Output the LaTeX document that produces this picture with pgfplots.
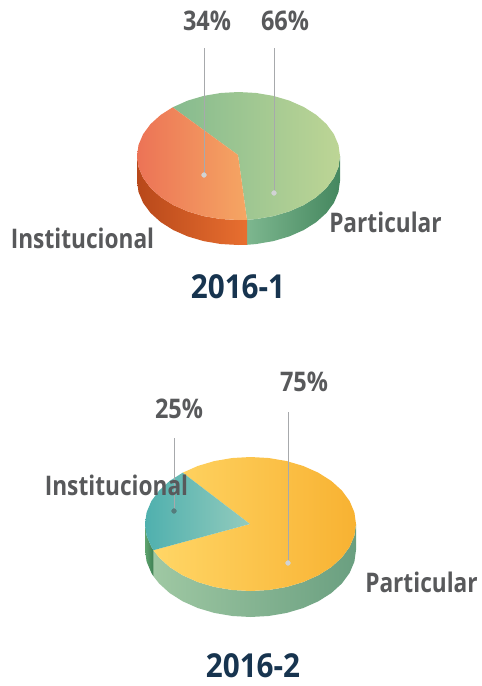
\documentclass[border=0pt]{standalone}
\usepackage{pgfplots}
\pgfplotsset{compat=1.18}
\usepackage{fontspec}
\setmainfont[BoldFeatures={FakeStretch=0.84}]{Open Sans}
\newfontfamily\pctfont[BoldFeatures={FakeStretch=0.87}]{Open Sans}
\newfontfamily\ttlfont[BoldFeatures={FakeStretch=0.9}]{Open Sans}
\definecolor{lab}{HTML}{58595B}
\definecolor{ttl}{HTML}{17344F}
\definecolor{ldr}{HTML}{A7A9AC}
\definecolor{dot}{HTML}{D1D3D4}
\definecolor{oa}{HTML}{EC7356}\definecolor{ob}{HTML}{F5A663}
\definecolor{ga}{HTML}{86BB8F}\definecolor{gb}{HTML}{BDD595}
\definecolor{osa}{HTML}{B8481A}\definecolor{osb}{HTML}{E86F30}
\definecolor{gsa}{HTML}{7DB78F}\definecolor{gsb}{HTML}{45875F}
\definecolor{ya}{HTML}{FFD666}\definecolor{yb}{HTML}{F8B232}
\definecolor{ta}{HTML}{4FB0AE}\definecolor{tb}{HTML}{93CBBD}
\definecolor{sa}{HTML}{9FC8A3}\definecolor{sb}{HTML}{6A9F80}
\definecolor{da}{HTML}{5FA36E}\definecolor{db}{HTML}{3E8053}
\tikzset{lbl/.style={font=\fontsize{27}{27}\selectfont\bfseries,text=lab,inner sep=0pt},
  pct/.style={font=\pctfont\fontsize{27}{27}\selectfont\bfseries,text=lab,inner sep=0pt},
  ttlb/.style={font=\ttlfont\fontsize{33}{33}\selectfont\bfseries,text=ttl,inner sep=0pt}}
\begin{document}
\begin{tikzpicture}
\path[use as bounding box] (0,0) rectangle (482pt,686pt);
\begin{axis}[x=1pt,y=1pt,xmin=0,xmax=482,ymin=0,ymax=686,y dir=reverse,hide axis,clip=false,
  scale only axis,anchor=south west,at={(0,0)}]
% --- 2016-1 sides
\addplot[draw=none,left color=gsa,right color=gsb] coordinates {(247,219.8)(256.12,219.03)(273.21,216.14)(289.25,211.43)(303.74,205.03)(316.25,197.14)(326.4,188)(333.88,177.89)(338.46,167.11)(340,156)(340,181)(338.46,192.11)(333.88,202.89)(326.4,213)(316.25,222.14)(303.74,230.03)(289.25,236.43)(273.21,241.14)(256.12,244.03)(247,244.8)} -- cycle;
\addplot[draw=none,left color=osa,right color=osb] coordinates {(137,156)(138.54,167.11)(143.12,177.89)(150.6,188)(160.75,197.14)(173.26,205.03)(187.75,211.43)(203.79,216.14)(220.88,219.03)(238.5,220)(247,219.8)(247,244.8)(238.5,245)(220.88,244.03)(203.79,241.14)(187.75,236.43)(173.26,230.03)(160.75,222.14)(150.6,213)(143.12,202.89)(138.54,192.11)(137,181)} -- cycle;
% --- 2016-1 top
\addplot[draw=none,left color=ga,right color=gb] coordinates {(238,155)(172.6,107.33)(187.75,100.57)(203.79,95.86)(220.88,92.97)(238.5,92)(256.12,92.97)(273.21,95.86)(289.25,100.57)(303.74,106.97)(316.25,114.86)(326.4,124)(333.88,134.11)(338.46,144.89)(340,156)(338.46,167.11)(333.88,177.89)(326.4,188)(316.25,197.14)(303.74,205.03)(289.25,211.43)(273.21,216.14)(256.12,219.03)(247,219.8)} -- cycle;
\addplot[draw=none,left color=oa,right color=ob] coordinates {(238,155)(247,219.8)(238.5,220)(220.88,219.03)(203.79,216.14)(187.75,211.43)(173.26,205.03)(160.75,197.14)(150.6,188)(143.12,177.89)(138.54,167.11)(137,156)(138.54,144.89)(143.12,134.11)(150.6,124)(160.75,114.86)(172.6,107.33)} -- cycle;
% --- 2016-2 sides
\addplot[draw=none,left color=sa,right color=sb] coordinates {(153.4,550.2)(159.13,557.5)(169.68,567.07)(182.69,575.32)(197.75,582.02)(214.42,586.96)(232.18,589.98)(250.5,591)(268.82,589.98)(286.58,586.96)(303.25,582.02)(318.31,575.32)(331.32,567.07)(341.87,557.5)(349.64,546.91)(354.4,535.63)(356,524)(356,550)(354.4,561.63)(349.64,572.91)(341.87,583.5)(331.32,593.07)(318.31,601.32)(303.25,608.02)(286.58,612.96)(268.82,615.98)(250.5,617)(232.18,615.98)(214.42,612.96)(197.75,608.02)(182.69,601.32)(169.68,593.07)(159.13,583.5)(153.4,576.2)} -- cycle;
\addplot[draw=none,left color=da,right color=db] coordinates {(145,524)(146.6,535.63)(151.36,546.91)(153.4,550.2)(153.4,576.2)(151.36,572.91)(146.6,561.63)(145,550)} -- cycle;
% --- 2016-2 top
\addplot[draw=none,left color=ya,right color=yb] coordinates {(250,524)(182.69,472.68)(197.75,465.98)(214.42,461.04)(232.18,458.02)(250.5,457)(268.82,458.02)(286.58,461.04)(303.25,465.98)(318.31,472.68)(331.32,480.93)(341.87,490.5)(349.64,501.09)(354.4,512.37)(356,524)(354.4,535.63)(349.64,546.91)(341.87,557.5)(331.32,567.07)(318.31,575.32)(303.25,582.02)(286.58,586.96)(268.82,589.98)(250.5,591)(232.18,589.98)(214.42,586.96)(197.75,582.02)(182.69,575.32)(169.68,567.07)(159.13,557.5)(153.4,550.2)} -- cycle;
\addplot[draw=none,left color=ta,right color=tb] coordinates {(250,524)(153.4,550.2)(151.36,546.91)(146.6,535.63)(145,524)(146.6,512.37)(151.36,501.09)(159.13,490.5)(169.68,480.93)(182.69,472.68)} -- cycle;
% --- leaders
\addplot[ldr,line width=0.7pt] coordinates {(204,48)(204,175)};
\addplot[ldr,line width=0.7pt] coordinates {(274,48)(274,193)};
\addplot[ldr,line width=0.7pt] coordinates {(174,438)(174,511)};
\addplot[ldr,line width=0.7pt] coordinates {(288,412)(288,563)};
\addplot[only marks,mark=*,mark size=2.4pt,mark options={draw=dot,fill=dot}] coordinates {(204,175)(274,193)(288,563)};
\addplot[only marks,mark=*,mark size=2.4pt,mark options={draw=lab!60!ta,fill=lab!60!ta}] coordinates {(174,511)};
% --- text
\node[pct] at (axis cs:207,21) {34\%};
\node[pct] at (axis cs:285,21) {66\%};
\node[lbl] at (axis cs:82.5,238) {Institucional};
\node[lbl] at (axis cs:385.5,222) {Particular};
\node[ttlb] at (axis cs:238,287) {2016-1};
\node[pct] at (axis cs:179,409) {25\%};
\node[pct] at (axis cs:304,382) {75\%};
\node[lbl] at (axis cs:116.5,485) {Institucional};
\node[lbl] at (axis cs:421.5,582) {Particular};
\node[ttlb] at (axis cs:253,666) {2016-2};
\end{axis}
\end{tikzpicture}
\end{document}
